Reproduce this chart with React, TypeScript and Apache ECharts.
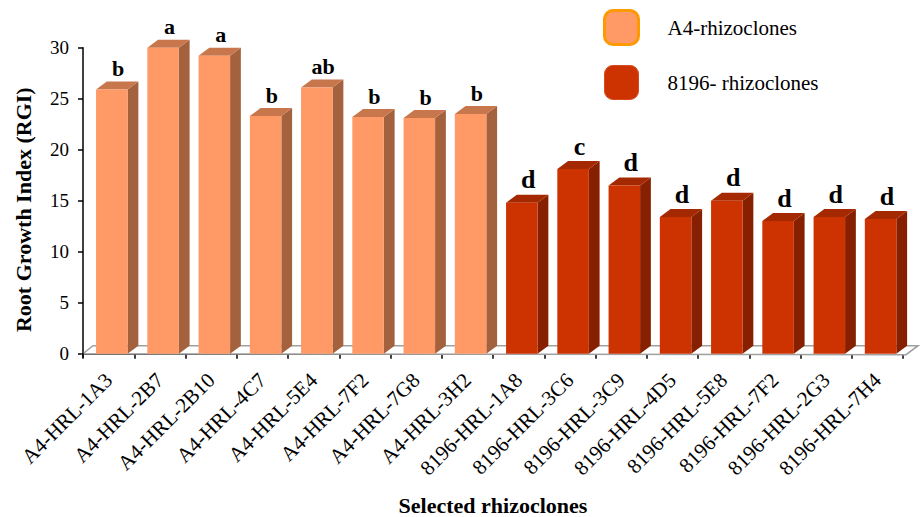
import React, { useEffect, useRef } from 'react';
import * as echarts from 'echarts';

const categories = [
  'A4-HRL-1A3', 'A4-HRL-2B7', 'A4-HRL-2B10', 'A4-HRL-4C7', 'A4-HRL-5E4', 'A4-HRL-7F2', 'A4-HRL-7G8', 'A4-HRL-3H2',
  '8196-HRL-1A8', '8196-HRL-3C6', '8196-HRL-3C9', '8196-HRL-4D5', '8196-HRL-5E8', '8196-HRL-7F2', '8196-HRL-2G3', '8196-HRL-7H4',
];
const a4Values = [25.9, 30.0, 29.2, 23.3, 26.1, 23.2, 23.1, 23.5];
const a4Letters = ['b', 'a', 'a', 'b', 'ab', 'b', 'b', 'b'];
const r8196Values = [14.8, 18.1, 16.5, 13.4, 15.0, 13.0, 13.4, 13.2];
const r8196Letters = ['d', 'c', 'd', 'd', 'd', 'd', 'd', 'd'];
const seriesNames = ['A4-rhizoclones', '8196- rhizoclones'];
const yMin = 0;
const yMax = 30;
const yInterval = 5;

const FONT = "'Liberation Serif', 'Times New Roman', serif";

const a4Colors = { front: '#FF9966', side: '#A3613D', top: '#C8764C' };
const redColors = { front: '#CC3300', side: '#872000', top: '#A52900' };

function makeRender(colors: any, letters: string[], fontSize: number) {
  return (params: any, api: any) => {
    const idx = api.value(0);
    const v = api.value(1);
    const top = api.coord([idx, v]);
    const base = api.coord([idx, 0]);
    const bw = api.size([1, 0])[0];
    const xl = top[0] - bw * 0.245;
    const xr = xl + bw * 0.615;
    const dx = bw * 0.21;
    const dy = 8;
    const yt = top[1];
    const yb = base[1];
    return {
      type: 'group',
      children: [
        {
          type: 'polygon',
          shape: { points: [[xr, yt], [xr + dx, yt - dy], [xr + dx, yb - dy], [xr, yb]] },
          style: { fill: colors.side },
        },
        {
          type: 'polygon',
          shape: { points: [[xl, yt], [xr, yt], [xr + dx, yt - dy], [xl + dx, yt - dy]] },
          style: { fill: colors.top },
        },
        {
          type: 'rect',
          shape: { x: xl, y: yt, width: xr - xl, height: yb - yt },
          style: { fill: colors.front },
        },
        {
          type: 'text',
          style: {
            x: (xl + xr + dx) / 2 + 1,
            y: yt - dy - 2,
            text: letters[params.dataIndex],
            align: 'center',
            verticalAlign: 'bottom',
            fontFamily: FONT,
            fontWeight: 'bold',
            fontSize,
            fill: '#000',
          },
        },
      ],
    };
  };
}

export default function App() {
  const ref = useRef<HTMLDivElement>(null);
  useEffect(() => {
    document.body.style.margin = '0';
    const chart = echarts.init(ref.current!, null, { renderer: 'svg' });
    const a4Data = a4Values.map((v, i) => [i, v]);
    const redData = r8196Values.map((v, i) => [i + a4Values.length, v]);
    chart.setOption({
      animation: false,
      backgroundColor: '#fff',
      grid: { left: 83, right: 17, top: 47.7, bottom: 163.3, containLabel: false, outerBoundsMode: 'none' },
      legend: {
        orient: 'vertical',
        left: 603,
        top: 9,
        padding: 0,
        itemWidth: 34,
        itemHeight: 34,
        itemGap: 19,
        icon: 'roundRect',
        selectedMode: false,
        textStyle: { fontFamily: FONT, fontSize: 21, color: '#000', padding: [0, 0, 0, 24] },
        data: [
          { name: seriesNames[0], itemStyle: { color: '#FF9966', borderColor: '#FF9900', borderWidth: 3 } },
          { name: seriesNames[1], itemStyle: { color: '#CC3300', borderColor: '#D94A1F', borderWidth: 1 } },
        ],
      },
      xAxis: {
        type: 'category',
        data: categories,
        offset: 4,
        axisLine: { show: true, lineStyle: { color: '#000', width: 1.5 } },
        axisTick: { show: true, length: 5, lineStyle: { color: '#000', width: 1.5 } },
        axisLabel: {
          interval: 0,
          rotate: 45,
          margin: 19,
          fontFamily: FONT,
          fontSize: 21,
          color: '#000',
        },
        name: 'Selected rhizoclones',
        nameLocation: 'middle',
        nameGap: 137,
        nameTextStyle: { fontFamily: FONT, fontSize: 22, fontWeight: 'bold', color: '#000' },
      },
      yAxis: {
        type: 'value',
        min: yMin,
        max: yMax,
        interval: yInterval,
        axisLine: { show: true, lineStyle: { color: '#000', width: 1.5 } },
        axisTick: { show: true, length: 5, lineStyle: { color: '#000', width: 1.5 } },
        axisLabel: { margin: 14, fontFamily: FONT, fontSize: 19, color: '#000' },
        splitLine: { show: false },
        name: 'Root Growth Index (RGI)',
        nameLocation: 'middle',
        nameRotate: 90,
        nameGap: 49,
        nameTextStyle: { fontFamily: FONT, fontSize: 22, fontWeight: 'bold', color: '#000', padding: [0, 18, 0, 0] },
      },
      series: [
        {
          type: 'custom',
          name: 'floor',
          silent: true,
          z: 1,
          data: [[0, 0]],
          encode: { x: 0, y: 1 },
          renderItem: (params: any, api: any) => {
            const cs = params.coordSys;
            const x0 = cs.x;
            const x1 = cs.x + cs.width;
            const yb = cs.y + cs.height;
            return {
              type: 'group',
              children: [
                {
                  type: 'polygon',
                  shape: { points: [[x0, yb], [x1 + 3, yb + 1], [x1 + 15, yb - 8], [x0 + 10, yb - 8]] },
                  style: { fill: '#fff', stroke: '#A0A0A0', lineWidth: 1.5 },
                },
                {
                  type: 'line',
                  shape: { x1: x0, y1: yb - 1, x2: x0, y2: yb + 4 },
                  style: { stroke: '#000', lineWidth: 1.5 },
                },
              ],
            };
          },
        },
        {
          type: 'custom',
          name: seriesNames[0],
          z: 3,
          itemStyle: { color: '#FF9966' },
          data: a4Data,
          encode: { x: 0, y: 1 },
          renderItem: makeRender(a4Colors, a4Letters, 22),
        },
        {
          type: 'custom',
          name: seriesNames[1],
          z: 3,
          itemStyle: { color: '#CC3300' },
          data: redData,
          encode: { x: 0, y: 1 },
          renderItem: makeRender(redColors, r8196Letters, 26),
        },
      ],
    });
    return () => chart.dispose();
  }, []);
  return <div ref={ref} style={{ position: 'absolute', left: 0, top: 0, width: 920, height: 517 }} />;
}
